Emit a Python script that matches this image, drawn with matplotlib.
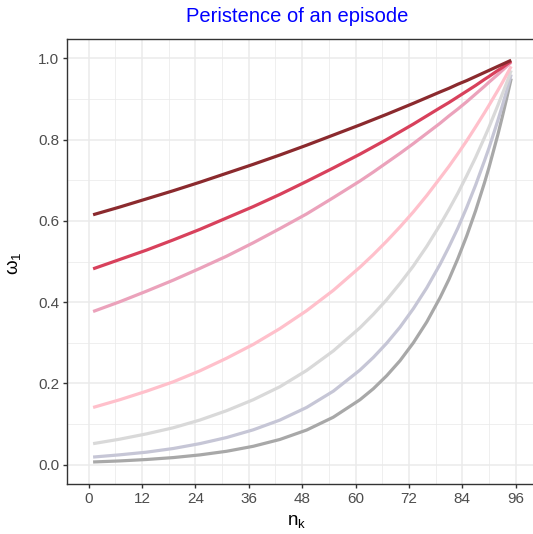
import matplotlib
matplotlib.use("Agg")
import matplotlib.pyplot as plt
from matplotlib.ticker import MultipleLocator

plt.rcParams['font.family'] = ['Liberation Sans', 'DejaVu Sans']
plt.rcParams['mathtext.fontset'] = 'custom'
plt.rcParams['mathtext.rm'] = 'Liberation Sans'
plt.rcParams['mathtext.it'] = 'Liberation Sans'

n_k = [1, 7, 13, 19, 25, 31, 37, 43, 49, 55, 61, 64, 67, 70, 73, 76, 79, 81, 83, 85, 87, 89, 90, 92, 93, 94, 95]

# omega_1 values for each curve (top to bottom)
s1 = [0.615, 0.634, 0.654, 0.674, 0.695, 0.717, 0.739, 0.762, 0.786, 0.811, 0.836, 0.849, 0.862, 0.8755, 0.889,
      0.903, 0.917, 0.926, 0.936, 0.945, 0.955, 0.965, 0.970, 0.980, 0.985, 0.990, 0.995]
s2 = [0.482, 0.505, 0.528, 0.553, 0.579, 0.607, 0.635, 0.665, 0.697, 0.730, 0.764, 0.782, 0.800, 0.819, 0.838,
      0.858, 0.878, 0.891, 0.905, 0.919, 0.933, 0.948, 0.955, 0.970, 0.977, 0.985, 0.9925]
s3 = [0.377, 0.401, 0.427, 0.454, 0.483, 0.513, 0.546, 0.581, 0.617, 0.657, 0.698, 0.720, 0.743, 0.766, 0.790,
      0.815, 0.840, 0.858, 0.875, 0.893, 0.912, 0.931, 0.941, 0.960, 0.970, 0.980, 0.990]
s4 = [0.141, 0.160, 0.181, 0.204, 0.231, 0.262, 0.296, 0.335, 0.379, 0.429, 0.486, 0.517, 0.550, 0.585, 0.622,
      0.662, 0.705, 0.734, 0.765, 0.797, 0.831, 0.866, 0.884, 0.921, 0.940, 0.960, 0.980]
s5 = [0.052, 0.063, 0.076, 0.091, 0.110, 0.133, 0.160, 0.192, 0.232, 0.280, 0.337, 0.370, 0.406, 0.446, 0.489,
      0.537, 0.590, 0.628, 0.668, 0.711, 0.756, 0.805, 0.830, 0.884, 0.912, 0.940, 0.970]
s6 = [0.019, 0.0245, 0.031, 0.040, 0.052, 0.067, 0.086, 0.110, 0.141, 0.181, 0.233, 0.264, 0.299, 0.3385, 0.384,
      0.435, 0.493, 0.536, 0.582, 0.633, 0.688, 0.748, 0.779, 0.847, 0.883, 0.921, 0.960]
s7 = [0.0069, 0.0095, 0.013, 0.0177, 0.0243, 0.0332, 0.0455, 0.0623, 0.0854, 0.117, 0.160, 0.187, 0.219, 0.256, 0.300,
      0.351, 0.411, 0.456, 0.507, 0.563, 0.625, 0.694, 0.731, 0.812, 0.856, 0.902, 0.950]

series = [s1, s2, s3, s4, s5, s6, s7]
colors = ['#8B2A2E', '#D8415C', '#EBA2BB', '#FFC0CB', '#D9D9D9', '#C6C6D6', '#A8A8A8']

x_ticks = [0, 12, 24, 36, 48, 60, 72, 84, 96]
y_ticks = [0.0, 0.2, 0.4, 0.6, 0.8, 1.0]
y_tick_labels = ['0.0', '0.2', '0.4', '0.6', '0.8', '1.0']

W, H = 533, 534
fig = plt.figure(figsize=(W / 100, H / 100), dpi=100)
left, right, top, bottom = 67.3, 537.0, 38.7, 484.3
ax = fig.add_axes([left / W, 1 - bottom / H, (right - left) / W, (bottom - top) / H])

for i, (s, c) in enumerate(zip(series, colors)):
    ax.plot(n_k, s, color=c, lw=2.3, solid_capstyle='butt', solid_joinstyle='round',
            zorder=10 - i)

ax.set_xlim(-4.8, 100.8)
ax.set_ylim(-0.048, 1.048)
ax.set_xticks(x_ticks)
ax.set_xticklabels([str(v) for v in x_ticks])
ax.set_yticks(y_ticks)
ax.set_yticklabels(y_tick_labels)
ax.xaxis.set_minor_locator(MultipleLocator(6))
ax.yaxis.set_minor_locator(MultipleLocator(0.1))

ax.grid(which='major', color='#EBEBEB', lw=1.1, zorder=0)
ax.grid(which='minor', color='#EBEBEB', lw=0.55, zorder=0)
ax.set_axisbelow(True)

for sp in ax.spines.values():
    sp.set_color('#333333')
    sp.set_linewidth(1.0)

ax.tick_params(which='major', length=3.2, width=1.0, color='#333333',
               labelcolor='#4D4D4D', labelsize=11, pad=2.5)
ax.tick_params(which='minor', length=0)

fig.text(297 / W, 1 - 521 / H, r'$\mathregular{n_k}$', ha='center', va='center',
         fontsize=13.5, color='black')
fig.text(14 / W, 1 - 263 / H, r'$\mathregular{\omega_1}$', ha='center', va='center',
         fontsize=13.5, color='black', rotation=90)
fig.text(297 / W, 1 - 17 / H, 'Peristence of an episode', ha='center', va='center',
         fontsize=14.5, color='blue')

fig.savefig('out.png', dpi=100)
